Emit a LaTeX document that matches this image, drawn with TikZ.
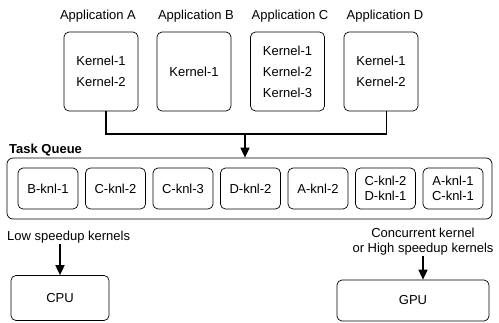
\documentclass[tikz,border=0pt]{standalone}
\usepackage{fontspec}
\setmainfont{Liberation Sans}
\usetikzlibrary{arrows.meta}
\tikzset{
  appbox/.style={draw, rounded corners=5pt, line width=0.7pt, align=center,
    minimum width=74pt, minimum height=79pt, inner sep=0pt,
    font=\fontsize{13}{21}\selectfont},
  knlbox/.style={draw, rounded corners=5pt, line width=0.7pt, align=center,
    minimum width=60pt, minimum height=41pt, inner sep=0pt,
    font=\fontsize{13}{15}\selectfont},
  devbox/.style={draw, rounded corners=5pt, line width=0.7pt,
    minimum height=45pt, inner sep=0pt, font=\fontsize{13}{15}\selectfont},
  lbl/.style={inner sep=1pt, align=center, font=\fontsize{13}{15}\selectfont},
  link/.style={line width=1.6pt},
  feed/.style={line width=1.6pt, -{Triangle[width=9pt,length=10pt]}}
}
\begin{document}
\begin{tikzpicture}[x=1pt,y=-1pt]
\useasboundingbox (0,0) rectangle (499,322);
\node[lbl] (lblA) at (98,16) {Application A};
\node[lbl] (lblB) at (196,16) {Application B};
\node[lbl] (lblC) at (290,16) {Application C};
\node[lbl] (lblD) at (385,16) {Application D};
\node[appbox] (appA) at (101,71.5) {Kernel-1\\Kernel-2};
\node[appbox] (appB) at (194,71.5) {Kernel-1};
\node[appbox] (appC) at (287.5,71.5) {Kernel-1\\Kernel-2\\Kernel-3};
\node[appbox] (appD) at (381,71.5) {Kernel-1\\Kernel-2};
\node[draw, rounded corners=6pt, line width=0.7pt, minimum width=485pt,
  minimum height=61pt, inner sep=0pt] (queue) at (249.5,188.5) {};
\node[anchor=west, inner sep=0pt, font=\fontsize{13}{15}\selectfont\bfseries]
  (qlbl) at (9,150) {Task Queue};
\foreach \x/\name/\txt in {48/q1/B-knl-1, 115.5/q2/C-knl-2, 183/q3/C-knl-3,
    250.5/q4/D-knl-2, 318/q5/A-knl-2, 385.5/q6/{C-knl-2\\D-knl-1},
    453/q7/{A-knl-1\\C-knl-1}}
  \node[knlbox] (\name) at (\x,188.5) {\txt};
\coordinate (join) at (245,134);
\draw[link] ([xshift=5pt]appA.south) |- (join) -| ([xshift=5.5pt]appD.south);
\draw[feed] (join) -- (queue.north -| join);
\node[lbl, anchor=west] (lowlbl) at (6,237) {Low speedup kernels};
\node[devbox, minimum width=98pt] (cpu) at (60,298) {CPU};
\draw[feed] (cpu.north |- lowlbl.south) -- (cpu.north);
\node[lbl] (gpulbl) at (423,241.5) {Concurrent kernel\\or High speedup kernels};
\node[devbox, minimum width=152pt, minimum height=41pt] (gpu) at (413,300.5) {GPU};
\draw[feed] (gpulbl.south) -- (gpulbl.south |- gpu.north);
\end{tikzpicture}
\end{document}
